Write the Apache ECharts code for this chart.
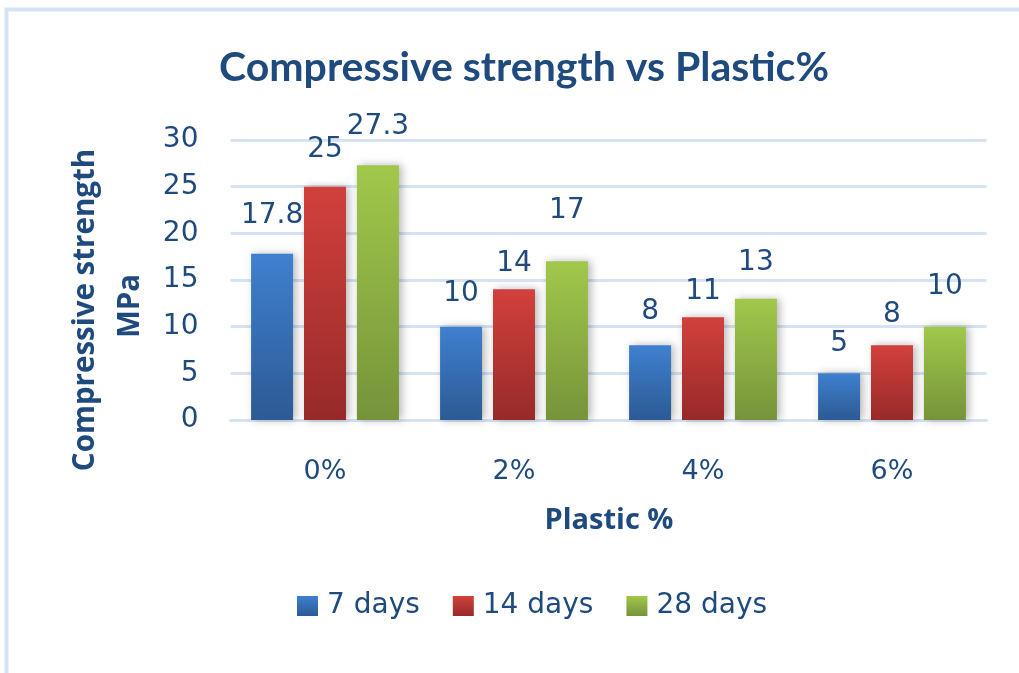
<!DOCTYPE html>
<html>
<head>
<meta charset="utf-8">
<script src="https://cdn.jsdelivr.net/npm/echarts@6/dist/echarts.min.js"></script>
<style>html,body{margin:0;padding:0;background:#fff}#c{width:1019px;height:673px}</style>
</head>
<body>
<div id="c"></div>
<script>
const categories = ['0%', '2%', '4%', '6%'];
const seriesNames = ['7 days', '14 days', '28 days'];
const days7 = [17.8, 10, 8, 5];
const days14 = [25, 14, 11, 8];
const days28 = [27.3, 17, 13, 10];
const yTicks = [0, 5, 10, 15, 20, 25, 30];
// label distance above the bar top (layout only)
const labelGap7 = [39, 34, 35, 31];
const labelGap14 = [38, 27, 27, 32];
const labelGap28 = [39, 52, 37, 41];

const TXT = '#1f4a7e';
const FONT = 'DejaVu Sans';
function grad(top, bottom) {
  return new echarts.graphic.LinearGradient(0, 0, 0, 1, [
    { offset: 0, color: top }, { offset: 1, color: bottom }
  ]);
}
const colors = [
  ['#3f80d0', '#2c5a94'],
  ['#d2403c', '#972a29'],
  ['#a1c84b', '#76933a']
];
const values = [days7, days14, days28];
const gaps = [labelGap7, labelGap14, labelGap28];

const chart = echarts.init(document.getElementById('c'), null, { renderer: 'canvas' });
chart.setOption({
  animation: false,
  backgroundColor: '#fff',
  title: {
    text: 'Compressive strength vs Plastic%',
    left: 519, top: 42, textAlign: 'center',
    textStyle: { fontFamily: 'Lato', fontWeight: 'bold', fontSize: 41, color: TXT }
  },
  graphic: [
    { type: 'rect', shape: { x: 6.5, y: 9.5, width: 1200, height: 900 },
      style: { fill: null, stroke: '#d5e3f2', lineWidth: 4 }, z: 100 },
    { type: 'text', x: 86, y: 310, rotation: Math.PI / 2,
      style: { text: 'Compressive strength', font: 'bold 29.5px "Open Sans"', fill: TXT,
        textAlign: 'center', textVerticalAlign: 'middle' } },
    { type: 'text', x: 131, y: 306, rotation: Math.PI / 2,
      style: { text: 'MPa', font: 'bold 29.5px "Open Sans"', fill: TXT,
        textAlign: 'center', textVerticalAlign: 'middle' } },
    { type: 'text', x: 609, y: 521,
      style: { text: 'Plastic %', font: 'bold 29px "Open Sans"', fill: TXT,
        textAlign: 'center', textVerticalAlign: 'middle' } }
  ],
  legend: {
    data: seriesNames,
    left: 292, top: 587,
    itemWidth: 21, itemHeight: 20, itemGap: 33,
    icon: 'rect',
    textStyle: { fontFamily: FONT, fontSize: 28, color: TXT, padding: [0, 0, 0, 4] }
  },
  grid: { left: 230.5, right: 32.5, top: 140, bottom: 253 },
  xAxis: {
    type: 'category', data: categories,
    axisLine: { show: true, lineStyle: { color: '#d5e3f2', width: 3 } },
    axisTick: { show: false },
    axisLabel: { fontFamily: FONT, fontSize: 27, color: TXT, margin: 38 }
  },
  yAxis: {
    type: 'value', min: yTicks[0], max: yTicks[yTicks.length - 1], interval: 5,
    axisLine: { show: false }, axisTick: { show: false },
    splitLine: { lineStyle: { color: '#d5e3f2', width: 3 } },
    axisLabel: { fontFamily: FONT, fontSize: 28, color: TXT, margin: 32 }
  },
  series: seriesNames.map((name, s) => ({
    name, type: 'bar', barWidth: 42, barGap: '26%',
    itemStyle: {
      color: grad(colors[s][0], colors[s][1]),
      shadowBlur: 8, shadowColor: 'rgba(0,0,0,0.28)', shadowOffsetX: 3, shadowOffsetY: 0
    },
    data: values[s].map((v, i) => ({
      value: v,
      label: { show: true, position: 'top', distance: gaps[s][i] - 15 }
    })),
    label: { fontFamily: FONT, fontSize: 28, color: TXT }
  }))
});
</script>
</body>
</html>
